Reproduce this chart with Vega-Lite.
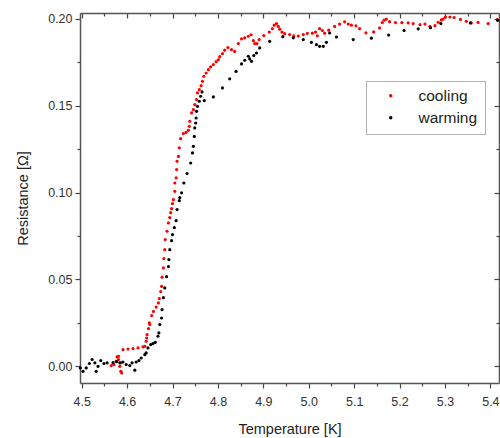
{
  "$schema": "https://vega.github.io/schema/vega-lite/v6.json",
  "width": 419,
  "height": 370,
  "autosize": {"type": "none"},
  "padding": {"left": 80, "top": 13, "right": 1, "bottom": 55},
  "background": "white",
  "config": {
    "view": {"stroke": null},
    "font": "Liberation Sans",
    "axis": {"domainColor": "#555", "domainWidth": 1.5, "tickColor": "#444", "tickWidth": 1.2, "grid": false, "labelColor": "#333", "labelFont": "Liberation Sans", "labelFontSize": 12.5, "titleFont": "Liberation Sans", "titleFontSize": 14.5, "titleFontWeight": "normal", "titleColor": "#222"}
  },
  "data": {"values": [
    {"T":4.565,"R":0.0004,"s":"cooling"},{"T":4.571,"R":0.0010,"s":"cooling"},{"T":4.576,"R":0.0029,"s":"cooling"},{"T":4.578,"R":0.0054,"s":"cooling"},{"T":4.581,"R":0.0058,"s":"cooling"},{"T":4.581,"R":0.0039,"s":"cooling"},{"T":4.584,"R":0.0000,"s":"cooling"},{"T":4.586,"R":-0.0029,"s":"cooling"},{"T":4.587,"R":0.0020,"s":"cooling"},{"T":4.588,"R":-0.0038,"s":"cooling"},
    {"T":4.591,"R":0.0096,"s":"cooling"},{"T":4.602,"R":0.0099,"s":"cooling"},{"T":4.613,"R":0.0102,"s":"cooling"},{"T":4.624,"R":0.0106,"s":"cooling"},{"T":4.635,"R":0.0112,"s":"cooling"},{"T":4.639,"R":0.0115,"s":"cooling"},{"T":4.642,"R":0.0144,"s":"cooling"},{"T":4.643,"R":0.0163,"s":"cooling"},{"T":4.644,"R":0.0182,"s":"cooling"},{"T":4.647,"R":0.0217,"s":"cooling"},{"T":4.649,"R":0.0250,"s":"cooling"},{"T":4.650,"R":0.0240,"s":"cooling"},{"T":4.654,"R":0.0292,"s":"cooling"},{"T":4.658,"R":0.0316,"s":"cooling"},{"T":4.664,"R":0.0341,"s":"cooling"},{"T":4.669,"R":0.0365,"s":"cooling"},{"T":4.671,"R":0.0390,"s":"cooling"},{"T":4.674,"R":0.0430,"s":"cooling"},{"T":4.676,"R":0.0460,"s":"cooling"},{"T":4.677,"R":0.0513,"s":"cooling"},{"T":4.680,"R":0.0566,"s":"cooling"},{"T":4.681,"R":0.0620,"s":"cooling"},{"T":4.683,"R":0.0671,"s":"cooling"},{"T":4.684,"R":0.0729,"s":"cooling"},{"T":4.688,"R":0.0777,"s":"cooling"},{"T":4.691,"R":0.0825,"s":"cooling"},{"T":4.694,"R":0.0856,"s":"cooling"},{"T":4.696,"R":0.0884,"s":"cooling"},{"T":4.698,"R":0.0907,"s":"cooling"},{"T":4.700,"R":0.0936,"s":"cooling"},{"T":4.702,"R":0.0959,"s":"cooling"},{"T":4.705,"R":0.1007,"s":"cooling"},{"T":4.705,"R":0.1055,"s":"cooling"},{"T":4.708,"R":0.1084,"s":"cooling"},{"T":4.709,"R":0.1132,"s":"cooling"},{"T":4.710,"R":0.1180,"s":"cooling"},{"T":4.713,"R":0.1208,"s":"cooling"},{"T":4.715,"R":0.1257,"s":"cooling"},{"T":4.718,"R":0.1310,"s":"cooling"},{"T":4.724,"R":0.1339,"s":"cooling"},{"T":4.730,"R":0.1346,"s":"cooling"},{"T":4.735,"R":0.1358,"s":"cooling"},{"T":4.737,"R":0.1381,"s":"cooling"},{"T":4.738,"R":0.1410,"s":"cooling"},{"T":4.742,"R":0.1458,"s":"cooling"},{"T":4.746,"R":0.1477,"s":"cooling"},{"T":4.749,"R":0.1506,"s":"cooling"},{"T":4.753,"R":0.1535,"s":"cooling"},{"T":4.755,"R":0.1573,"s":"cooling"},{"T":4.759,"R":0.1592,"s":"cooling"},{"T":4.763,"R":0.1615,"s":"cooling"},{"T":4.766,"R":0.1640,"s":"cooling"},{"T":4.769,"R":0.1669,"s":"cooling"},{"T":4.774,"R":0.1688,"s":"cooling"},{"T":4.779,"R":0.1707,"s":"cooling"},{"T":4.784,"R":0.1723,"s":"cooling"},{"T":4.790,"R":0.1736,"s":"cooling"},{"T":4.796,"R":0.1753,"s":"cooling"},{"T":4.801,"R":0.1765,"s":"cooling"},{"T":4.804,"R":0.1782,"s":"cooling"},{"T":4.810,"R":0.1799,"s":"cooling"},{"T":4.815,"R":0.1819,"s":"cooling"},{"T":4.822,"R":0.1834,"s":"cooling"},{"T":4.830,"R":0.1822,"s":"cooling"},{"T":4.837,"R":0.1812,"s":"cooling"},{"T":4.845,"R":0.1857,"s":"cooling"},{"T":4.852,"R":0.1884,"s":"cooling"},{"T":4.859,"R":0.1890,"s":"cooling"},{"T":4.867,"R":0.1899,"s":"cooling"},{"T":4.873,"R":0.1908,"s":"cooling"},{"T":4.878,"R":0.1874,"s":"cooling"},{"T":4.881,"R":0.1857,"s":"cooling"},{"T":4.886,"R":0.1857,"s":"cooling"},{"T":4.891,"R":0.1880,"s":"cooling"},{"T":4.901,"R":0.1903,"s":"cooling"},{"T":4.913,"R":0.1923,"s":"cooling"},{"T":4.920,"R":0.1943,"s":"cooling"},{"T":4.924,"R":0.1963,"s":"cooling"},{"T":4.929,"R":0.1972,"s":"cooling"},{"T":4.933,"R":0.1956,"s":"cooling"},{"T":4.936,"R":0.1940,"s":"cooling"},{"T":4.941,"R":0.1923,"s":"cooling"},{"T":4.947,"R":0.1914,"s":"cooling"},{"T":4.958,"R":0.1909,"s":"cooling"},{"T":4.967,"R":0.1901,"s":"cooling"},{"T":4.977,"R":0.1900,"s":"cooling"},{"T":4.988,"R":0.1909,"s":"cooling"},{"T":4.997,"R":0.1916,"s":"cooling"},{"T":5.008,"R":0.1917,"s":"cooling"},{"T":5.015,"R":0.1923,"s":"cooling"},{"T":5.019,"R":0.1902,"s":"cooling"},{"T":5.024,"R":0.1943,"s":"cooling"},{"T":5.030,"R":0.1932,"s":"cooling"},{"T":5.035,"R":0.1917,"s":"cooling"},{"T":5.044,"R":0.1934,"s":"cooling"},{"T":5.057,"R":0.1956,"s":"cooling"},{"T":5.068,"R":0.1969,"s":"cooling"},{"T":5.079,"R":0.1982,"s":"cooling"},{"T":5.087,"R":0.1969,"s":"cooling"},{"T":5.094,"R":0.1963,"s":"cooling"},{"T":5.104,"R":0.1959,"s":"cooling"},{"T":5.112,"R":0.1943,"s":"cooling"},{"T":5.126,"R":0.1919,"s":"cooling"},{"T":5.143,"R":0.1924,"s":"cooling"},{"T":5.156,"R":0.1947,"s":"cooling"},{"T":5.162,"R":0.1978,"s":"cooling"},{"T":5.166,"R":0.1992,"s":"cooling"},{"T":5.171,"R":0.1998,"s":"cooling"},{"T":5.178,"R":0.1983,"s":"cooling"},{"T":5.191,"R":0.1978,"s":"cooling"},{"T":5.205,"R":0.1978,"s":"cooling"},{"T":5.219,"R":0.1976,"s":"cooling"},{"T":5.230,"R":0.1972,"s":"cooling"},{"T":5.245,"R":0.1966,"s":"cooling"},{"T":5.256,"R":0.1969,"s":"cooling"},{"T":5.267,"R":0.1957,"s":"cooling"},{"T":5.278,"R":0.1960,"s":"cooling"},{"T":5.285,"R":0.1980,"s":"cooling"},{"T":5.292,"R":0.1993,"s":"cooling"},{"T":5.296,"R":0.1998,"s":"cooling"},{"T":5.301,"R":0.2009,"s":"cooling"},{"T":5.311,"R":0.2010,"s":"cooling"},{"T":5.320,"R":0.2007,"s":"cooling"},{"T":5.334,"R":0.1996,"s":"cooling"},{"T":5.347,"R":0.1985,"s":"cooling"},{"T":5.358,"R":0.1976,"s":"cooling"},{"T":5.373,"R":0.1979,"s":"cooling"},{"T":5.395,"R":0.1972,"s":"cooling"},{"T":5.415,"R":0.1995,"s":"cooling"},
    {"T":4.497,"R":-0.0009,"s":"warming"},{"T":4.503,"R":-0.0029,"s":"warming"},{"T":4.510,"R":-0.0009,"s":"warming"},{"T":4.517,"R":0.0016,"s":"warming"},{"T":4.523,"R":0.0039,"s":"warming"},{"T":4.529,"R":0.0020,"s":"warming"},{"T":4.532,"R":-0.0029,"s":"warming"},{"T":4.536,"R":0.0000,"s":"warming"},{"T":4.542,"R":0.0033,"s":"warming"},{"T":4.549,"R":0.0016,"s":"warming"},{"T":4.556,"R":0.0020,"s":"warming"},{"T":4.569,"R":0.0021,"s":"warming"},{"T":4.577,"R":0.0027,"s":"warming"},{"T":4.584,"R":0.0020,"s":"warming"},{"T":4.591,"R":0.0025,"s":"warming"},{"T":4.598,"R":0.0010,"s":"warming"},{"T":4.606,"R":0.0004,"s":"warming"},{"T":4.611,"R":0.0020,"s":"warming"},{"T":4.617,"R":-0.0022,"s":"warming"},{"T":4.620,"R":0.0025,"s":"warming"},{"T":4.626,"R":0.0033,"s":"warming"},{"T":4.631,"R":0.0048,"s":"warming"},{"T":4.639,"R":0.0067,"s":"warming"},{"T":4.642,"R":0.0077,"s":"warming"},{"T":4.646,"R":0.0106,"s":"warming"},{"T":4.652,"R":0.0125,"s":"warming"},{"T":4.657,"R":0.0131,"s":"warming"},{"T":4.662,"R":0.0138,"s":"warming"},{"T":4.668,"R":0.0173,"s":"warming"},{"T":4.670,"R":0.0192,"s":"warming"},{"T":4.672,"R":0.0240,"s":"warming"},{"T":4.676,"R":0.0278,"s":"warming"},{"T":4.677,"R":0.0326,"s":"warming"},{"T":4.680,"R":0.0395,"s":"warming"},{"T":4.683,"R":0.0451,"s":"warming"},{"T":4.687,"R":0.0516,"s":"warming"},{"T":4.691,"R":0.0574,"s":"warming"},{"T":4.692,"R":0.0614,"s":"warming"},{"T":4.694,"R":0.0671,"s":"warming"},{"T":4.698,"R":0.0723,"s":"warming"},{"T":4.700,"R":0.0758,"s":"warming"},{"T":4.704,"R":0.0798,"s":"warming"},{"T":4.708,"R":0.0838,"s":"warming"},{"T":4.710,"R":0.0902,"s":"warming"},{"T":4.715,"R":0.0953,"s":"warming"},{"T":4.716,"R":0.0971,"s":"warming"},{"T":4.720,"R":0.0998,"s":"warming"},{"T":4.725,"R":0.1055,"s":"warming"},{"T":4.732,"R":0.1109,"s":"warming"},{"T":4.740,"R":0.1170,"s":"warming"},{"T":4.744,"R":0.1228,"s":"warming"},{"T":4.746,"R":0.1266,"s":"warming"},{"T":4.748,"R":0.1323,"s":"warming"},{"T":4.749,"R":0.1372,"s":"warming"},{"T":4.751,"R":0.1400,"s":"warming"},{"T":4.752,"R":0.1429,"s":"warming"},{"T":4.753,"R":0.1467,"s":"warming"},{"T":4.755,"R":0.1496,"s":"warming"},{"T":4.759,"R":0.1525,"s":"warming"},{"T":4.762,"R":0.1554,"s":"warming"},{"T":4.765,"R":0.1579,"s":"warming"},{"T":4.770,"R":0.1529,"s":"warming"},{"T":4.790,"R":0.1550,"s":"warming"},{"T":4.810,"R":0.1602,"s":"warming"},{"T":4.826,"R":0.1654,"s":"warming"},{"T":4.840,"R":0.1697,"s":"warming"},{"T":4.852,"R":0.1740,"s":"warming"},{"T":4.859,"R":0.1761,"s":"warming"},{"T":4.867,"R":0.1784,"s":"warming"},{"T":4.870,"R":0.1769,"s":"warming"},{"T":4.874,"R":0.1755,"s":"warming"},{"T":4.879,"R":0.1788,"s":"warming"},{"T":4.885,"R":0.1803,"s":"warming"},{"T":4.892,"R":0.1832,"s":"warming"},{"T":4.914,"R":0.1870,"s":"warming"},{"T":4.943,"R":0.1897,"s":"warming"},{"T":4.966,"R":0.1890,"s":"warming"},{"T":4.988,"R":0.1880,"s":"warming"},{"T":5.006,"R":0.1864,"s":"warming"},{"T":5.017,"R":0.1851,"s":"warming"},{"T":5.024,"R":0.1841,"s":"warming"},{"T":5.032,"R":0.1841,"s":"warming"},{"T":5.039,"R":0.1864,"s":"warming"},{"T":5.046,"R":0.1918,"s":"warming"},{"T":5.061,"R":0.1895,"s":"warming"},{"T":5.098,"R":0.1880,"s":"warming"},{"T":5.138,"R":0.1888,"s":"warming"},{"T":5.176,"R":0.1906,"s":"warming"},{"T":5.210,"R":0.1933,"s":"warming"},{"T":5.241,"R":0.1942,"s":"warming"},{"T":5.268,"R":0.1948,"s":"warming"},{"T":5.291,"R":0.1972,"s":"warming"},{"T":5.356,"R":0.1976,"s":"warming"},{"T":5.416,"R":0.1991,"s":"warming"}
  ]},
  "layer": [
    {
      "mark": {"type": "point", "filled": true, "size": 10, "opacity": 1},
      "encoding": {
        "x": {"field": "T", "type": "quantitative", "scale": {"domain": [4.4963, 5.419], "nice": false, "zero": false},
              "axis": {"orient": "bottom", "values": [4.5,4.6,4.7,4.8,4.9,5.0,5.1,5.2,5.3,5.4], "format": ".1f", "tickSize": 5, "labelPadding": 7, "title": "Temperature [K]", "titlePadding": 15}},
        "y": {"field": "R", "type": "quantitative", "scale": {"domain": [-0.0096, 0.2033], "nice": false, "zero": false},
              "axis": {"orient": "left", "values": [0,0.05,0.1,0.15,0.2], "format": ".2f", "tickSize": 5, "labelPadding": 3, "title": "Resistance [Ω]", "titlePadding": 17}},
        "color": {"field": "s", "type": "nominal", "scale": {"domain": ["cooling","warming"], "range": ["#ff0000","#000000"]},
                  "legend": {"title": null, "orient": "none", "legendX": 286, "legendY": 68, "fillColor": "white", "strokeColor": "#b0b0b0", "padding": 7, "symbolType": "circle", "symbolSize": 12, "symbolOffset": 10, "labelFontSize": 15.5, "labelFont": "Liberation Sans", "labelColor": "#222", "labelOffset": 20, "rowPadding": 5, "symbolStrokeWidth": 0}}
      }
    },
    {
      "mark": {"type": "point", "opacity": 0},
      "encoding": {
        "x": {"field": "T", "type": "quantitative", "axis": {"orient": "top", "values": [4.5,4.6,4.7,4.8,4.9,5.0,5.1,5.2,5.3,5.4], "tickSize": -5, "labels": false, "title": null}},
        "y": {"field": "R", "type": "quantitative", "axis": {"orient": "right", "values": [0,0.05,0.1,0.15,0.2], "tickSize": -5, "labels": false, "title": null}}
      }
    },
    {
      "mark": {"type": "point", "opacity": 0},
      "encoding": {
        "x": {"field": "T", "type": "quantitative", "axis": {"orient": "bottom", "values": [4.55,4.65,4.75,4.85,4.95,5.05,5.15,5.25,5.35], "tickSize": 3, "labels": false, "domain": false, "title": null}},
        "y": {"field": "R", "type": "quantitative", "axis": {"orient": "left", "values": [0.025,0.075,0.125,0.175], "tickSize": 3, "labels": false, "domain": false, "title": null}}
      }
    },
    {
      "mark": {"type": "point", "opacity": 0},
      "encoding": {
        "x": {"field": "T", "type": "quantitative", "axis": {"orient": "top", "values": [4.55,4.65,4.75,4.85,4.95,5.05,5.15,5.25,5.35], "tickSize": -3, "labels": false, "domain": false, "title": null}},
        "y": {"field": "R", "type": "quantitative", "axis": {"orient": "right", "values": [0.025,0.075,0.125,0.175], "tickSize": -3, "labels": false, "domain": false, "title": null}}
      }
    }
  ],
  "resolve": {"axis": {"x": "independent", "y": "independent"}}
}
